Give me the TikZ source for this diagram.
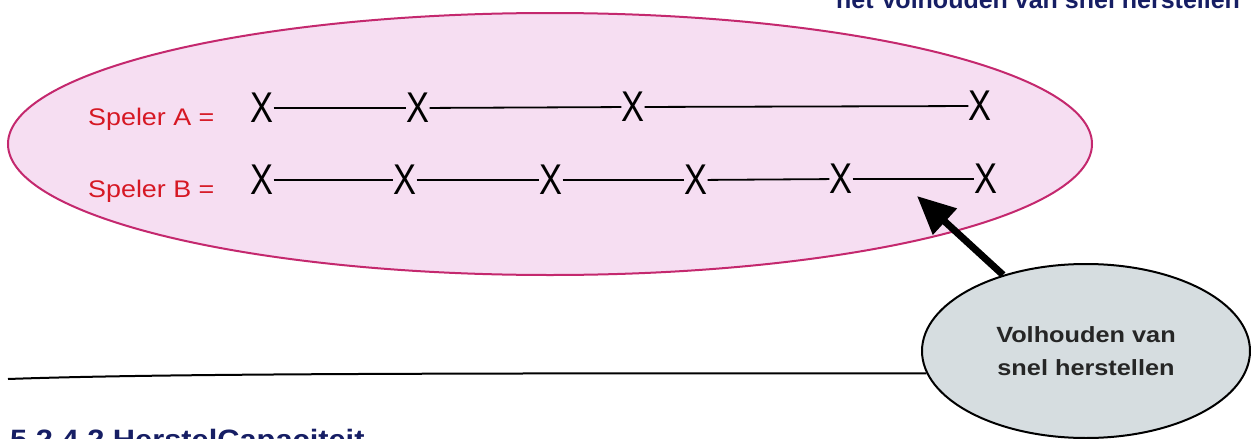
\documentclass[tikz,border=0pt]{standalone}
\usepackage{fontspec}
\setmainfont{Liberation Sans}
\usetikzlibrary{shapes.geometric,arrows.meta}
\definecolor{pinkfill}{RGB}{246,222,242}
\definecolor{pinkborder}{RGB}{196,40,110}
\definecolor{grayfill}{RGB}{214,221,224}
\definecolor{navy}{RGB}{22,30,100}
\definecolor{spred}{RGB}{214,24,36}
\newcommand{\hsc}[2]{\scalebox{#1}[1]{#2}}
\tikzset{
  xmark/.style={inner sep=0pt, font=\fontsize{43}{43}\selectfont},
  link/.style={line width=1.8pt, black},
  speler/.style={anchor=base west, inner sep=0pt, text=spred, font=\fontsize{24}{24}\selectfont},
  heading/.style={anchor=base west, inner sep=0pt, text=navy, font=\bfseries\fontsize{25}{25}\selectfont},
}
\begin{document}
\begin{tikzpicture}[x=1pt,y=-1pt]
\useasboundingbox (0,0) rectangle (1251,439);
\clip (0,0) rectangle (1251,439);
\fill[white] (0,0) rectangle (1251,439);
% big pink ellipse
\node[ellipse, draw=pinkborder, line width=2pt, fill=pinkfill, minimum width=1084pt, minimum height=262pt] (big) at (550,144) {};
% texts
\node[heading] (top) at (836,9) {het Volhouden van snel herstellen};
\node[heading, font=\bfseries\fontsize{28}{28}\selectfont] (sec) at (10,449) {\hsc{1.1}{5.2.4.2 HerstelCapaciteit}};
\node[speler] (la) at (88,125) {\hsc{1.12}{Speler A =}};
\node[speler] (lb) at (88,197) {\hsc{1.12}{Speler B =}};
% row A
\node[xmark] (a1) at (262,108) {\hsc{0.8}{X}};
\node[xmark] (a2) at (418,108) {\hsc{0.8}{X}};
\node[xmark] (a3) at (633,107) {\hsc{0.8}{X}};
\node[xmark] (a4) at (980,106) {\hsc{0.8}{X}};
\draw[link] (a1) -- (a2);
\draw[link] (a2) -- (a3);
\draw[link] (a3) -- (a4);
% row B
\node[xmark] (b1) at (262,180) {\hsc{0.8}{X}};
\node[xmark] (b2) at (405,180) {\hsc{0.8}{X}};
\node[xmark] (b3) at (551,180) {\hsc{0.8}{X}};
\node[xmark] (b4) at (696,180) {\hsc{0.8}{X}};
\node[xmark] (b5) at (841,179) {\hsc{0.8}{X}};
\node[xmark] (b6) at (986,179) {\hsc{0.8}{X}};
\draw[link] (b1) -- (b2);
\draw[link] (b2) -- (b3);
\draw[link] (b3) -- (b4);
\draw[link] (b4) -- (b5);
\draw[link] (b5) -- (b6);
% gray ellipse
\node[ellipse, draw=black, line width=2pt, fill=grayfill, minimum width=328pt, minimum height=174pt, align=center, text=black!85, font=\bfseries\fontsize{22}{33}\selectfont] (g) at (1086,351) {\hsc{1.15}{Volhouden van}\\\hsc{1.15}{snel herstellen}};
% arrow
\coordinate (tip) at (917,196);
\draw[line width=7pt, -{Triangle[length=38pt,width=34pt]}] (g) -- (tip);
% bottom line
\coordinate (l0) at (8,379);
\draw[line width=2pt] (l0) .. controls (150,374) and (400,373) .. (g.188);
\end{tikzpicture}
\end{document}
